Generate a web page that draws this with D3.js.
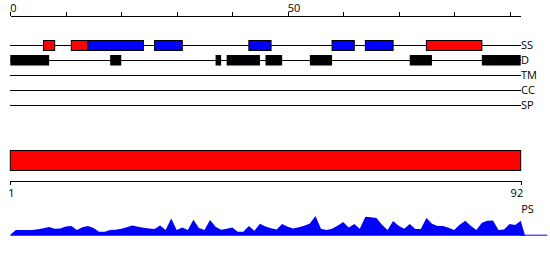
<!DOCTYPE html>
<html>
<head>
<meta charset="utf-8">
<script src="https://cdn.jsdelivr.net/npm/d3@7"></script>
<style>
  html, body { margin: 0; padding: 0; background: #fff; }
  text { font-family: "Open Sans", sans-serif; fill: #000; }
</style>
</head>
<body>
<svg id="chart" width="550" height="260"></svg>
<script>
// ---- data ----
const seqLength = 92;
const topTickValues = [0, 10, 20, 30, 40, 50, 60, 70, 80, 90];
const topTickLabels = [0, 50];
const bottomTickValues = [1, 92];
const tracks = ["SS", "D", "TM", "CC", "SP"];
// secondary structure segments: [start, end, type]  H = helix (red), E = strand (blue)
const ssSegments = [[6, 8, "H"], [11, 14, "H"], [14, 24, "E"], [26, 31, "E"], [43, 47, "E"],
                    [58, 62, "E"], [64, 69, "E"], [75, 85, "H"]];
// disorder segments: [start, end]
const disorderSegments = [[0, 7], [18, 20], [37, 38], [39, 45], [46, 49], [54, 58], [72, 76], [85, 92]];
// domain bar: [start, end]
const domainSegments = [[0, 92]];
// PS profile, positions 0..92
const psValues = [1, 5.7, 5.7, 5.7, 5.7, 6.5, 7.5, 8.7, 7, 7.2,
                  9.3, 9.7, 5.7, 8.5, 9.7, 7.7, 4, 4, 5.7, 6,
                  7, 8.5, 10.3, 9, 8, 7.3, 6.7, 10.3, 5.7, 17.3,
                  5.7, 8.3, 5.7, 16, 7.7, 5.7, 15.7, 9, 6, 7,
                  8.3, 4, 4, 9.7, 5, 12, 9.3, 7.5, 6.3, 11.7,
                  9, 7.3, 8.5, 10, 12.3, 19.7, 7, 5.7, 7, 10,
                  13.7, 8.3, 11.7, 7, 19, 18.5, 17.7, 11, 5.7, 14.7,
                  10, 7, 11.7, 6.7, 6.7, 17.7, 12, 9.7, 9.7, 8,
                  5.7, 11, 15, 10, 5.7, 13, 15, 15.3, 5.7, 6.3,
                  11.7, 10.7, 15];
const ssColors = { H: "#ff0000", E: "#0000ff" };

// ---- scales ----
const svg = d3.select("#chart");
const x = d3.scaleLinear().domain([0, seqLength]).range([10.3, 520.7]);
const xb = d3.scaleLinear().domain([1, seqLength]).range([10.3, 520.7]);
const yTrack = d3.scalePoint().domain(tracks).range([45.5, 105.5]);
const yPS = d3.scaleLinear().domain([0, 20]).range([235.7, 215.7]);

// ---- top axis ----
const topAxis = d3.axisTop(x).tickValues(topTickValues).tickSize(4).tickSizeOuter(0)
  .tickFormat(d => topTickLabels.includes(d) ? d : "");
const gTop = svg.append("g").attr("transform", "translate(0,15.5)").call(topAxis);
gTop.select(".domain").attr("stroke", "#000").attr("shape-rendering", "crispEdges");
gTop.selectAll(".tick line").attr("stroke", "#000").attr("shape-rendering", "crispEdges");
gTop.selectAll(".tick text").attr("text-anchor", "start").attr("x", -0.5).attr("y", -4)
  .style("font-size", "11px").style("font-family", "'Open Sans', sans-serif");

// ---- track lines ----
svg.append("g").selectAll("line").data(tracks).join("line")
  .attr("x1", x(0)).attr("x2", x(seqLength))
  .attr("y1", d => yTrack(d)).attr("y2", d => yTrack(d))
  .attr("stroke", "#000").attr("stroke-width", 1).attr("shape-rendering", "crispEdges");
svg.append("g").selectAll("text").data(tracks).join("text")
  .attr("x", x(seqLength) + 0.3).attr("y", d => yTrack(d))
  .attr("dy", "0.36em").style("font-size", "11px").text(d => d);

// ---- SS boxes ----
const boxH = 10;
svg.append("g").selectAll("rect").data(ssSegments).join("rect")
  .attr("x", d => x(d[0])).attr("width", d => x(d[1]) - x(d[0]))
  .attr("y", yTrack("SS") - boxH / 2).attr("height", boxH)
  .attr("fill", d => ssColors[d[2]]).attr("stroke", "#000").attr("stroke-width", 1);

// ---- disorder boxes ----
svg.append("g").selectAll("rect").data(disorderSegments).join("rect")
  .attr("x", d => x(d[0])).attr("width", d => x(d[1]) - x(d[0]))
  .attr("y", yTrack("D") - 5.5).attr("height", 10.5)
  .attr("fill", "#000");

// ---- domain bar ----
svg.append("g").selectAll("rect").data(domainSegments).join("rect")
  .attr("x", d => x(d[0])).attr("width", d => x(d[1]) - x(d[0]))
  .attr("y", 150.5).attr("height", 20)
  .attr("fill", "#ff0000").attr("stroke", "#000").attr("stroke-width", 1);

// ---- bottom axis ----
const bottomAxis = d3.axisBottom(xb).tickValues(bottomTickValues).tickSize(4).tickSizeOuter(0);
const gBot = svg.append("g").attr("transform", "translate(0,180.5)").call(bottomAxis);
gBot.select(".domain").attr("stroke", "#000").attr("shape-rendering", "crispEdges");
gBot.selectAll(".tick line").attr("stroke", "#000").attr("shape-rendering", "crispEdges");
gBot.selectAll(".tick text").attr("y", 9).style("font-size", "11px")
  .style("font-family", "'Open Sans', sans-serif")
  .attr("text-anchor", d => d === seqLength ? "end" : "middle")
  .attr("dx", d => d === seqLength ? 2 : 0.5);

// ---- PS profile ----
const psPoints = psValues.map((v, i) => ({ pos: i, v: v }));
psPoints.push({ pos: seqLength + 0.8, v: 0 });
const area = d3.area()
  .x(d => x(d.pos)).y0(yPS(0)).y1(d => yPS(d.v));
svg.append("path").datum(psPoints)
  .attr("fill", "#0000ff")
  .attr("d", area);
svg.append("line")
  .attr("x1", x(seqLength)).attr("x2", x(seqLength) + 26.5)
  .attr("y1", yPS(0) - 0.5).attr("y2", yPS(0) - 0.5)
  .attr("stroke", "#0000ff").attr("stroke-width", 1);
svg.append("text").attr("x", x(seqLength) + 0.5).attr("y", 213)
  .style("font-size", "11px").text("PS");
</script>
</body>
</html>
